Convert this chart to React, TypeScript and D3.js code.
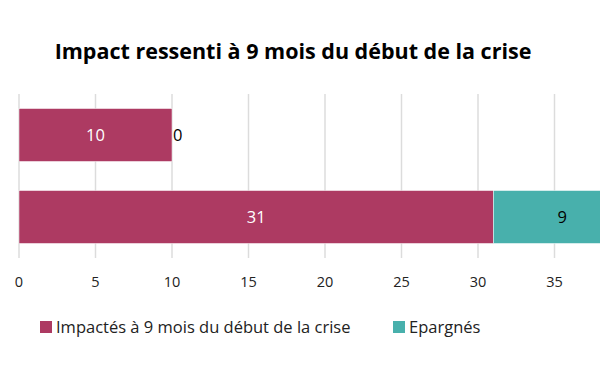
import React from 'react'
import * as d3 from 'd3'

const categories = ['A', 'B']
const impactes = [10, 31]
const epargnes = [0, 9]
const seriesNames = ['Impactés à 9 mois du début de la crise', 'Epargnés']
const seriesColors = ['#AD3A62', '#48B0AC']
const xTicks = [0, 5, 10, 15, 20, 25, 30, 35, 40]

const W = 600
const H = 372
const FONT = '"Open Sans", "DejaVu Sans", sans-serif'

export default function App() {
  const x = d3.scaleLinear().domain([0, 40]).range([19, 631])
  const y = d3.scaleBand().domain(categories).range([94, 258]).paddingInner(0.354).paddingOuter(0.177)

  const rows = categories.map((c, i) => ({ c, vals: [impactes[i], epargnes[i]] }))

  return (
    <svg width={W} height={H} style={{ position: 'absolute', left: 0, top: 0, background: '#fff' }}>
      <text x={293} y={59} textAnchor="middle" fontFamily={FONT} fontWeight={700} fontSize={21.5} fill="#000">
        Impact ressenti à 9 mois du début de la crise
      </text>

      {/* grid */}
      {xTicks.map(t => (
        <line key={t} x1={x(t)} x2={x(t)} y1={94} y2={258} stroke="#dcdcdc" strokeWidth={1.5} />
      ))}

      {/* bars */}
      {rows.map(r => {
        let acc = 0
        return r.vals.map((v, k) => {
          const x0 = acc
          acc += v
          const by = y(r.c)!
          const bh = y.bandwidth()
          const cx = (x(x0) + x(acc)) / 2
          const labelFill = k === 0 ? '#fff' : '#000'
          return (
            <g key={r.c + k}>
              {v > 0 && (
                <rect x={x(x0)} y={by} width={x(acc) - x(x0)} height={bh} fill={seriesColors[k]} stroke="#fff" strokeWidth={0.5} />
              )}
              {v > 0 ? (
                <text x={cx} y={by + bh / 2} dy="0.35em" textAnchor="middle" fontFamily={FONT} fontSize={16.5} fill={labelFill}>
                  {v}
                </text>
              ) : (
                <text x={x(x0) + 1} y={by + bh / 2} dy="0.35em" textAnchor="start" fontFamily={FONT} fontSize={16.5} fill="#000">
                  {v}
                </text>
              )}
            </g>
          )
        })
      })}

      {/* x axis labels (the last one falls outside the frame) */}
      {xTicks.filter(t => x(t) < W - 10).map(t => (
        <text key={t} x={x(t)} y={287} textAnchor="middle" fontFamily={FONT} fontSize={14.5} fill="#222">
          {t}
        </text>
      ))}

      {/* legend */}
      <rect x={40} y={321} width={12} height={12} fill={seriesColors[0]} />
      <text x={56} y={333} fontFamily={FONT} fontSize={16.5} fill="#222">{seriesNames[0]}</text>
      <rect x={393} y={321} width={12} height={12} fill={seriesColors[1]} />
      <text x={409} y={333} fontFamily={FONT} fontSize={16.5} fill="#222">{seriesNames[1]}</text>
    </svg>
  )
}
